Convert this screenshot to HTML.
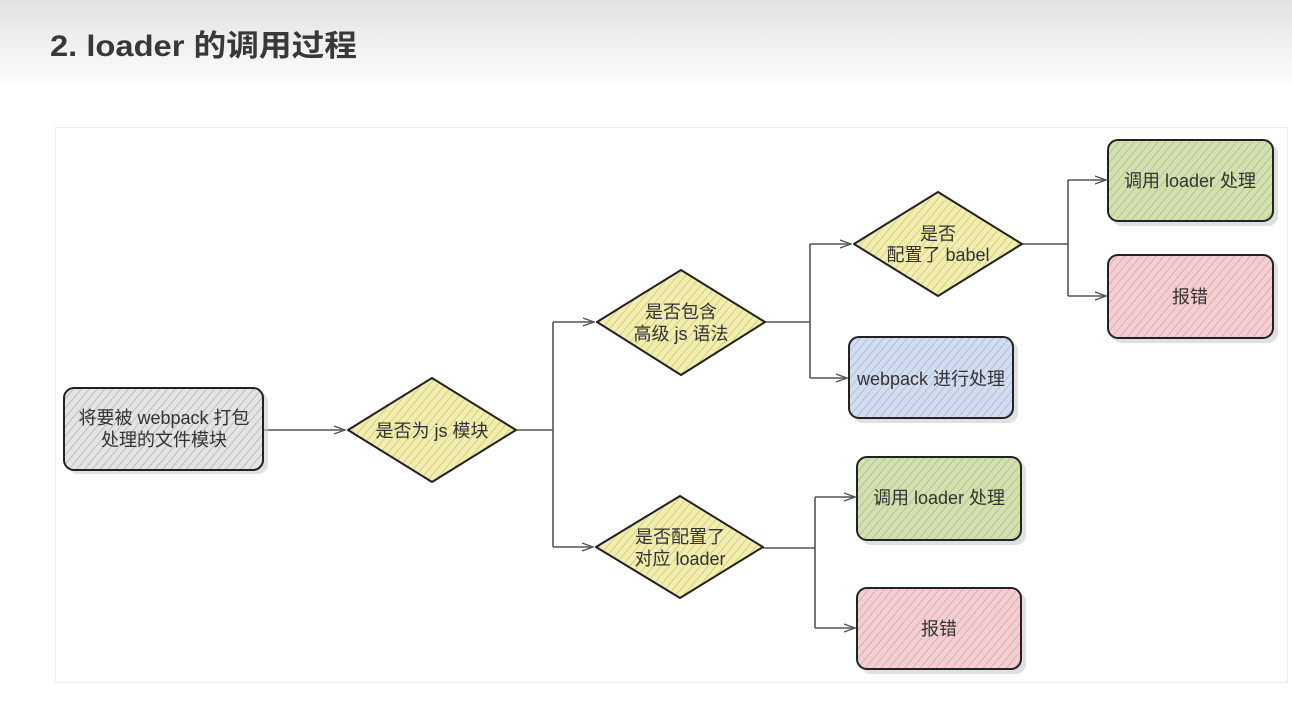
<!DOCTYPE html>
<html><head><meta charset="utf-8"><style>
html,body{margin:0;padding:0;width:1292px;height:706px;overflow:hidden;background:#fff}
</style></head><body>
<svg width="1292" height="706" xmlns="http://www.w3.org/2000/svg" font-family="'Liberation Sans','Noto Sans CJK SC',sans-serif">
<defs>
<linearGradient id="hg" x1="0" y1="0" x2="0" y2="1">
<stop offset="0" stop-color="#e2e2e2"/><stop offset="1" stop-color="#ffffff"/></linearGradient>
<pattern id="pg" width="6" height="6" patternUnits="userSpaceOnUse" patternTransform="rotate(40)"><rect width="6" height="6" fill="#e4e4e4"/><line x1="0" y1="0" x2="0" y2="6" stroke="#a8a8a8" stroke-width="1.3"/></pattern>
<pattern id="py" width="6" height="6" patternUnits="userSpaceOnUse" patternTransform="rotate(40)"><rect width="6" height="6" fill="#f1eeb0"/><line x1="0" y1="0" x2="0" y2="6" stroke="#c9c06a" stroke-width="1.3"/></pattern>
<pattern id="pb" width="6" height="6" patternUnits="userSpaceOnUse" patternTransform="rotate(40)"><rect width="6" height="6" fill="#d3ddf0"/><line x1="0" y1="0" x2="0" y2="6" stroke="#9fb0d2" stroke-width="1.3"/></pattern>
<pattern id="pgr" width="6" height="6" patternUnits="userSpaceOnUse" patternTransform="rotate(40)"><rect width="6" height="6" fill="#d3e0b0"/><line x1="0" y1="0" x2="0" y2="6" stroke="#a6b978" stroke-width="1.3"/></pattern>
<pattern id="pr" width="6" height="6" patternUnits="userSpaceOnUse" patternTransform="rotate(40)"><rect width="6" height="6" fill="#f4cfd2"/><line x1="0" y1="0" x2="0" y2="6" stroke="#d59aa0" stroke-width="1.3"/></pattern>
<marker id="ar" markerWidth="12" markerHeight="10" refX="11" refY="5" orient="auto" markerUnits="userSpaceOnUse"><path d="M0,1 L11,5 L0,9" fill="none" stroke="#555" stroke-width="1.3"/></marker>
</defs>
<rect x="0" y="0" width="1292" height="90" fill="url(#hg)"/>
<text x="50" y="56" font-size="30" font-weight="bold" fill="#383838" textLength="307" lengthAdjust="spacingAndGlyphs">2. loader 的调用过程</text>
<rect x="55.5" y="127.5" width="1232" height="555" fill="#fff" stroke="#ececec"/>

<g stroke="#555" stroke-width="1.6" fill="none">
<line x1="263" y1="430" x2="345" y2="430" marker-end="url(#ar)"/>
<polyline points="516,430 553,430"/>
<polyline points="553,322 553,547"/>
<line x1="553" y1="322" x2="594" y2="322" marker-end="url(#ar)"/>
<line x1="553" y1="547" x2="593" y2="547" marker-end="url(#ar)"/>
<polyline points="765,322 810,322"/>
<polyline points="810,244 810,378"/>
<line x1="810" y1="244" x2="851" y2="244" marker-end="url(#ar)"/>
<line x1="810" y1="378" x2="847" y2="378" marker-end="url(#ar)"/>
<polyline points="763,548 815,548"/>
<polyline points="815,497 815,628"/>
<line x1="815" y1="497" x2="855" y2="497" marker-end="url(#ar)"/>
<line x1="815" y1="628" x2="855" y2="628" marker-end="url(#ar)"/>
<polyline points="1022,244 1068,244"/>
<polyline points="1068,180 1068,296"/>
<line x1="1068" y1="180" x2="1106" y2="180" marker-end="url(#ar)"/>
<line x1="1068" y1="296" x2="1106" y2="296" marker-end="url(#ar)"/>
</g>

<g stroke="#222" stroke-width="2">
<g fill="#ccc" stroke="none" opacity="0.6">
<rect x="68" y="392" width="200" height="82" rx="10"/>
<rect x="853" y="341" width="165" height="82" rx="10"/>
<rect x="1112" y="144" width="166" height="82" rx="10"/>
<rect x="1112" y="259" width="166" height="84" rx="10"/>
<rect x="861" y="461" width="165" height="84" rx="10"/>
<rect x="861" y="592" width="165" height="82" rx="10"/>
</g>
<rect x="64" y="388" width="199" height="82" rx="10" fill="url(#pg)"/>
<path d="M348,430 L432,378 L516,430 L432,482 Z" fill="url(#py)" stroke-linejoin="round"/>
<path d="M597,322 L681,270 L765,322 L681,375 Z" fill="url(#py)" stroke-linejoin="round"/>
<path d="M596,547 L680,496 L763,547 L680,598 Z" fill="url(#py)" stroke-linejoin="round"/>
<path d="M854,244 L938,192 L1022,244 L938,296 Z" fill="url(#py)" stroke-linejoin="round"/>
<rect x="849" y="337" width="164" height="81" rx="10" fill="url(#pb)"/>
<rect x="1108" y="140" width="165" height="81" rx="10" fill="url(#pgr)"/>
<rect x="1108" y="255" width="165" height="83" rx="10" fill="url(#pr)"/>
<rect x="857" y="457" width="164" height="83" rx="10" fill="url(#pgr)"/>
<rect x="857" y="588" width="164" height="81" rx="10" fill="url(#pr)"/>
</g>

<g font-size="18" fill="#333" text-anchor="middle">
<text x="164" y="424">将要被 webpack 打包</text>
<text x="164" y="446">处理的文件模块</text>
<text x="432" y="437">是否为 js 模块</text>
<text x="681" y="318">是否包含</text>
<text x="681" y="340">高级 js 语法</text>
<text x="680" y="543">是否配置了</text>
<text x="680" y="565">对应 loader</text>
<text x="938" y="240">是否</text>
<text x="938" y="261">配置了 babel</text>
<text x="931" y="385">webpack 进行处理</text>
<text x="1190" y="187">调用 loader 处理</text>
<text x="1190" y="303">报错</text>
<text x="939" y="504">调用 loader 处理</text>
<text x="939" y="635">报错</text>
</g>
</svg>
</body></html>
